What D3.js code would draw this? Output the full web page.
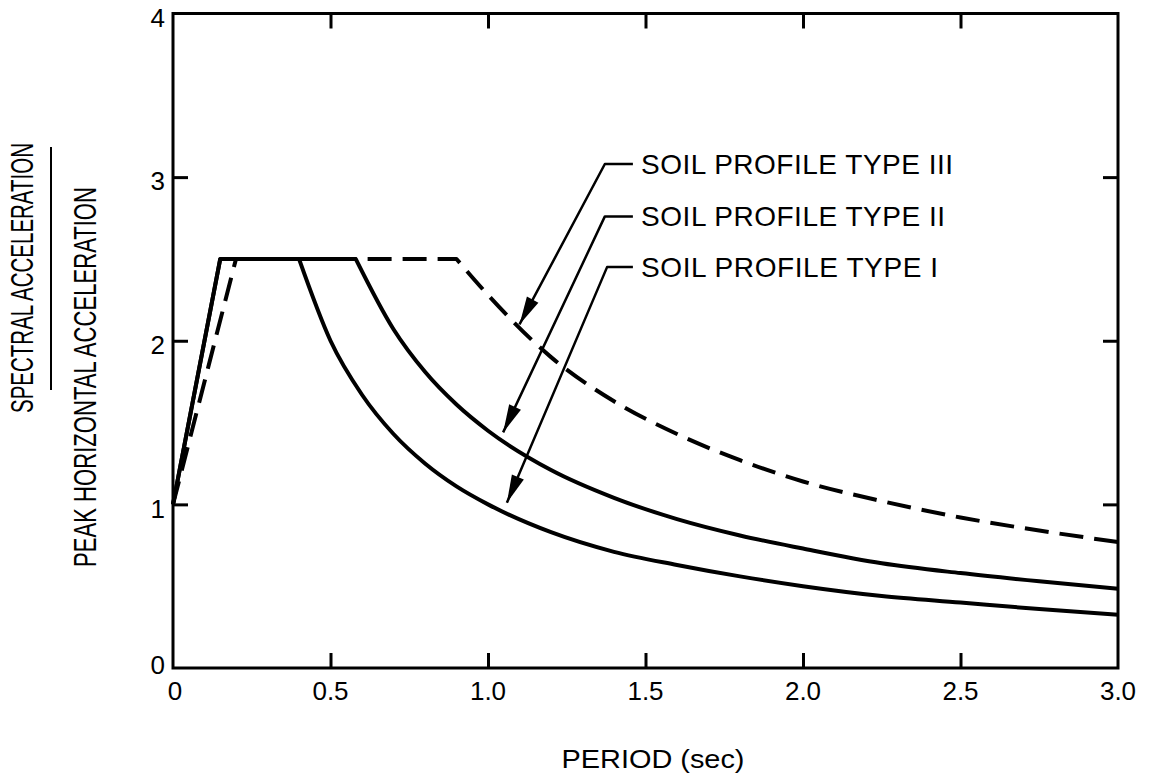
<!DOCTYPE html>
<html><head><meta charset="utf-8">
<script src="https://cdn.jsdelivr.net/npm/d3@7"></script>
<style>
body{margin:0;background:#fff}
svg{display:block}
text{font-family:"Liberation Sans",Arial,sans-serif;fill:#000}
</style>
</head><body>
<svg id="chart" width="1149" height="780"></svg>
<script>
// ---- data ----
const periodI  = [0, 0.15, 0.40, 0.5, 0.6, 0.7, 0.8, 0.9, 1.0, 1.2, 1.4, 1.6, 1.8, 2.0, 2.25, 2.5, 2.75, 3.0];
const valuesI  = [1, 2.5, 2.5, 2.0, 1.67, 1.43, 1.25, 1.11, 1.0, 0.83, 0.71, 0.63, 0.56, 0.5, 0.44, 0.4, 0.36, 0.325];
const periodII = [0, 0.15, 0.58, 0.7, 0.8, 0.9, 1.0, 1.2, 1.4, 1.6, 1.8, 2.0, 2.25, 2.5, 2.75, 3.0];
const valuesII = [1, 2.5, 2.5, 2.07, 1.81, 1.61, 1.45, 1.21, 1.04, 0.91, 0.81, 0.73, 0.64, 0.58, 0.53, 0.485];
const periodIII= [0, 0.20, 0.90, 1.0, 1.2, 1.4, 1.6, 1.8, 2.0, 2.25, 2.5, 2.75, 3.0];
const valuesIII= [1, 2.5, 2.5, 2.28, 1.90, 1.63, 1.43, 1.27, 1.14, 1.02, 0.92, 0.84, 0.77];

const xTickValues = [0, 0.5, 1.0, 1.5, 2.0, 2.5, 3.0];
const xTickLabels = ["0", "0.5", "1.0", "1.5", "2.0", "2.5", "3.0"];
const yTickValues = [0, 1, 2, 3, 4];
const yTickLabels = ["0", "1", "2", "3", "4"];

const annotationNames = ["SOIL PROFILE TYPE III", "SOIL PROFILE TYPE II", "SOIL PROFILE TYPE I"];
const annotationLabelV = [3.08, 2.76, 2.45];
const annotationElbowT = [1.371, 1.371, 1.378];
const annotationTipT   = [1.10, 1.048, 1.06];
const annotationTipV   = [2.10, 1.44, 1.01];
const annotationWidth  = [312, 304, 297];

const xTitle = "PERIOD (sec)";
const yTitleTop = "SPECTRAL ACCELERATION";
const yTitleBottom = "PEAK HORIZONTAL ACCELERATION";

// ---- layout ----
const svg = d3.select("#chart");
const x = d3.scaleLinear().domain([0, 3]).range([173, 1118]);
const y = d3.scaleLinear().domain([0, 4]).range([668, 13.5]);

// frame
svg.append("rect")
  .attr("x", x(0)).attr("y", y(4))
  .attr("width", x(3) - x(0)).attr("height", y(0) - y(4))
  .attr("fill", "none").attr("stroke", "#000").attr("stroke-width", 3);

// inward ticks on all four sides using d3 axes
const innerX = xTickValues.slice(1, -1);
const innerY = yTickValues.slice(1, -1);
function styleAxis(g){
  g.select(".domain").remove();
  g.selectAll(".tick line").attr("stroke", "#000").attr("stroke-width", 3);
  g.selectAll(".tick text").remove();
}
svg.append("g").attr("transform", `translate(0,${y(0)})`)
  .call(d3.axisBottom(x).tickValues(innerX).tickSize(-15).tickFormat("")).call(styleAxis);
svg.append("g").attr("transform", `translate(0,${y(4)})`)
  .call(d3.axisTop(x).tickValues(innerX).tickSize(-15).tickFormat("")).call(styleAxis);
svg.append("g").attr("transform", `translate(${x(0)},0)`)
  .call(d3.axisLeft(y).tickValues(innerY).tickSize(-15).tickFormat("")).call(styleAxis);
svg.append("g").attr("transform", `translate(${x(3)},0)`)
  .call(d3.axisRight(y).tickValues(innerY).tickSize(-15).tickFormat("")).call(styleAxis);

// tick labels
svg.append("g").selectAll("text").data(xTickValues).join("text")
  .attr("x", (d, i) => x(d) + (i === 0 ? 2 : 0))
  .attr("y", y(0) + 23)
  .attr("dy", "0.36em")
  .attr("text-anchor", "middle")
  .attr("font-size", 26)
  .text((d, i) => xTickLabels[i]);
svg.append("g").selectAll("text").data(yTickValues).join("text")
  .attr("x", x(0) - 8)
  .attr("y", (d, i) => y(d) + (i === 0 ? -3 : 4))
  .attr("dy", "0.36em")
  .attr("text-anchor", "end")
  .attr("font-size", 26)
  .text((d, i) => yTickLabels[i]);

// axis titles
svg.append("text")
  .attr("x", 653).attr("y", 759).attr("dy", "0.36em")
  .attr("text-anchor", "middle").attr("font-size", 26)
  .attr("textLength", 183).attr("lengthAdjust", "spacingAndGlyphs")
  .text(xTitle);
svg.append("text")
  .attr("transform", "translate(22,278) rotate(-90)")
  .attr("dy", "0.36em").attr("text-anchor", "middle").attr("font-size", 31)
  .attr("textLength", 270).attr("lengthAdjust", "spacingAndGlyphs")
  .text(yTitleTop);
svg.append("line")
  .attr("x1", 51).attr("x2", 51).attr("y1", 147).attr("y2", 390)
  .attr("stroke", "#000").attr("stroke-width", 2);
svg.append("text")
  .attr("transform", "translate(85,377) rotate(-90)")
  .attr("dy", "0.36em").attr("text-anchor", "middle").attr("font-size", 31)
  .attr("textLength", 380).attr("lengthAdjust", "spacingAndGlyphs")
  .text(yTitleBottom);

// curves: ramp + plateau straight, decay smooth
const straight = d3.line().x(d => x(d[0])).y(d => y(d[1]));
const smooth = d3.line().x(d => x(d[0])).y(d => y(d[1])).curve(d3.curveMonotoneX);
function spectrumPath(periods, values){
  const pts = periods.map((p, i) => [p, values[i]]);
  const a = straight(pts.slice(0, 3));
  const b = smooth(pts.slice(2)).replace(/^M/, "L");
  return a + b;
}
const series = [
  {p: periodIII, v: valuesIII, dash: "24,11"},
  {p: periodII, v: valuesII, dash: null},
  {p: periodI, v: valuesI, dash: null}
];
svg.append("g").selectAll("path").data(series).join("path")
  .attr("d", d => spectrumPath(d.p, d.v))
  .attr("fill", "none").attr("stroke", "#000").attr("stroke-width", 4)
  .attr("stroke-linejoin", "round")
  .attr("stroke-dasharray", d => d.dash);

// annotations
const labelT = 1.486, leaderEndT = 1.46;
annotationNames.forEach((name, i) => {
  const lx = x(leaderEndT), ly = y(annotationLabelV[i]);
  const ex = x(annotationElbowT[i]);
  const tx = x(annotationTipT[i]), ty = y(annotationTipV[i]);
  svg.append("path")
    .attr("d", `M${lx},${ly}L${ex},${ly}L${tx},${ty}`)
    .attr("fill", "none").attr("stroke", "#000").attr("stroke-width", 2.5)
    .attr("stroke-linejoin", "round");
  // arrowhead
  const dx = tx - ex, dy = ty - ly, len = Math.hypot(dx, dy);
  const ux = dx / len, uy = dy / len;
  const hl = 28, hw = 6.5;
  const bx = tx - ux * hl, by = ty - uy * hl;
  svg.append("path")
    .attr("d", `M${tx},${ty}L${bx - uy * hw},${by + ux * hw}L${bx + uy * hw},${by - ux * hw}Z`)
    .attr("fill", "#000");
  svg.append("text")
    .attr("x", x(labelT)).attr("y", ly).attr("dy", "0.36em")
    .attr("font-size", 28)
    .attr("textLength", annotationWidth[i]).attr("lengthAdjust", "spacing")
    .text(name);
});
</script>
</body></html>
